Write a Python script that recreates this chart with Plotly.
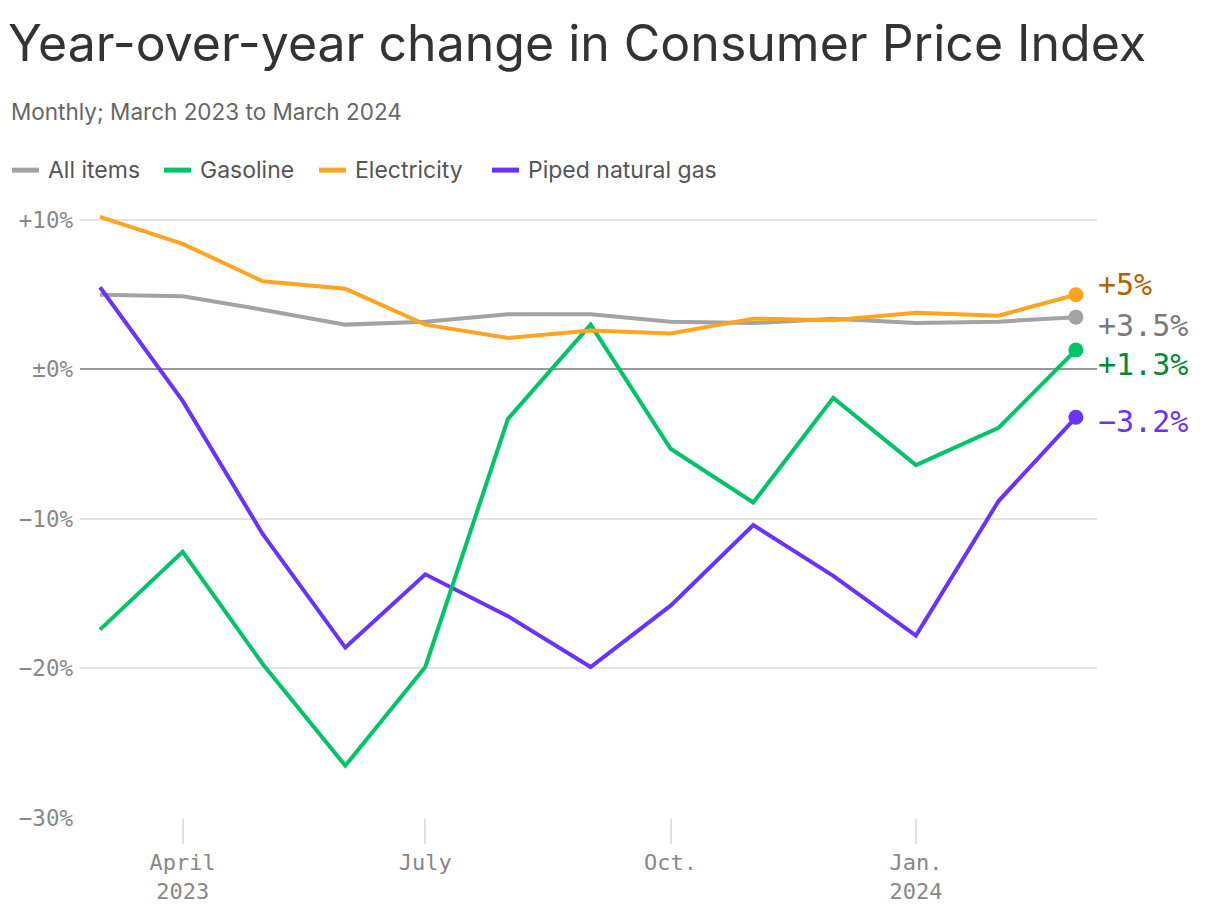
import plotly.graph_objects as go

months = ["2023-03-01", "2023-04-01", "2023-05-01", "2023-06-01", "2023-07-01",
          "2023-08-01", "2023-09-01", "2023-10-01", "2023-11-01", "2023-12-01",
          "2024-01-01", "2024-02-01", "2024-03-01"]

all_items = [5.0, 4.9, 4.0, 3.0, 3.2, 3.7, 3.7, 3.2, 3.1, 3.4, 3.1, 3.2, 3.5]
gasoline = [-17.4, -12.2, -19.7, -26.5, -19.9, -3.3, 3.0, -5.3, -8.9, -1.9, -6.4, -3.9, 1.3]
electricity = [10.2, 8.4, 5.9, 5.4, 3.0, 2.1, 2.6, 2.4, 3.4, 3.3, 3.8, 3.6, 5.0]
natural_gas = [5.5, -2.1, -11.0, -18.6, -13.7, -16.5, -19.9, -15.8, -10.4, -13.8, -17.8, -8.8, -3.2]

series_names = ["All items", "Gasoline", "Electricity", "Piped natural gas"]
end_labels = ["+3.5%", "+1.3%", "+5%", "\u22123.2%"]

y_tickvals = [10, 0, -10, -20, -30]
y_ticktext = ["+10%", "\u00b10%", "\u221210%", "\u221220%", "\u221230%"]
x_tickvals = ["2023-04-01", "2023-07-01", "2023-10-01", "2024-01-01"]
x_ticktext = ["April<br>2023", "July", "Oct.", "Jan.<br>2024"]

line_colors = ["#a3a3a3", "#00c46a", "#ffa51f", "#6633ff"]
label_colors = ["#7a7a7a", "#008a3c", "#b56200", "#6633ff"]
label_yshift = [-8, -14, 10, -4]

W, H = 1220, 916
ML, MR, MT, MB = 80, 123, 208, 96
PW, PH = W - ML - MR, H - MT - MB
PLOT_BOTTOM = MT + PH


def px_x(px):
    return (px - ML) / PW


def px_y(py):
    return (PLOT_BOTTOM - py) / PH


mono = "DejaVu Sans Mono"
sans = "Inter"

# legend layout (pixel positions of swatch starts)
legend_swatch_px = [10, 162, 317, 490]
legend_y_px = 170

fig = go.Figure()
data = [all_items, gasoline, electricity, natural_gas]
order = [0, 3, 1, 2]
for i in order:
    fig.add_trace(go.Scatter(
        x=months, y=data[i], mode="lines", name=series_names[i],
        line=dict(color=line_colors[i], width=4),
        showlegend=False, hoverinfo="skip"))
for i in order:
    fig.add_trace(go.Scatter(
        x=[months[-1]], y=[data[i][-1]], mode="markers", showlegend=False,
        marker=dict(color=line_colors[i], size=15), hoverinfo="skip"))

annotations = []
for i in range(4):
    annotations.append(dict(
        x=months[-1], y=data[i][-1], xref="x", yref="y", text=end_labels[i],
        showarrow=False, xanchor="left", yanchor="middle", xshift=20,
        yshift=label_yshift[i],
        font=dict(family=mono, size=30, color=label_colors[i])))

annotations.append(dict(
    x=px_x(9), y=px_y(111), xref="paper", yref="paper",
    text="Monthly; March 2023 to March 2024", showarrow=False,
    xanchor="left", yanchor="middle",
    font=dict(family=sans, size=22.5, color="#666666")))

shapes = []
for i in range(4):
    x0 = legend_swatch_px[i]
    shapes.append(dict(
        type="line", xref="paper", yref="paper",
        x0=px_x(x0 + 2), x1=px_x(x0 + 29), y0=px_y(legend_y_px), y1=px_y(legend_y_px),
        line=dict(color=line_colors[i], width=5)))
    annotations.append(dict(
        x=px_x(x0 + 36), y=px_y(legend_y_px), xref="paper", yref="paper",
        text=series_names[i], showarrow=False, xanchor="left", yanchor="middle",
        font=dict(family=sans, size=23, color="#555555")))

fig.update_layout(
    width=W, height=H,
    margin=dict(l=ML, r=MR, t=MT, b=MB),
    paper_bgcolor="white", plot_bgcolor="white",
    title=dict(text="Year-over-year change in Consumer Price Index",
               x=8 / W, xanchor="left", xref="container",
               y=1 - 43 / H, yanchor="middle", yref="container",
               font=dict(family=sans, size=50, color="#333333")),
    showlegend=False,
    annotations=annotations,
    shapes=shapes,
    xaxis=dict(type="date", range=["2023-02-21 12:00", "2024-03-08 22:00"],
               tickvals=x_tickvals, ticktext=x_ticktext,
               showgrid=False, zeroline=False, showline=False,
               ticks="outside", ticklen=25, tickwidth=2, tickcolor="#e0e0e0",
               tickfont=dict(family=mono, size=22, color="#888888")),
    yaxis=dict(range=[-30, 10.8], tickvals=y_tickvals, ticktext=y_ticktext,
               showgrid=True, gridcolor="#e3e3e3", gridwidth=2,
               zeroline=True, zerolinecolor="#999999", zerolinewidth=2,
               showline=False, ticks="", ticklabelstandoff=6,
               tickfont=dict(family=mono, size=22.5, color="#888888")),
)

fig.write_html("out.html")
